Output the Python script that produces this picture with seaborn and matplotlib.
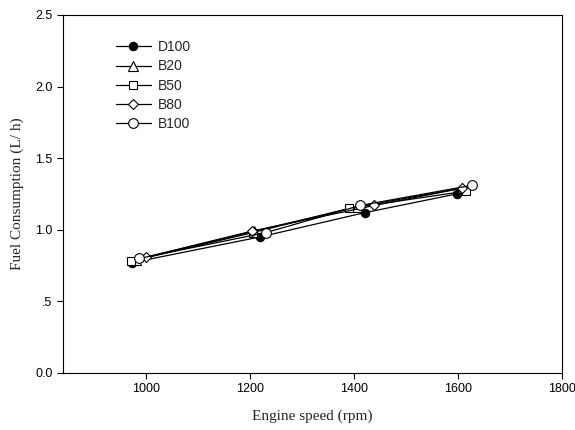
import matplotlib
matplotlib.use('Agg')
import matplotlib.pyplot as plt
import pandas as pd
import seaborn as sns
from matplotlib.ticker import FuncFormatter

# datos
fuels = ['D100', 'B20', 'B50', 'B80', 'B100']
speed = {
    'D100': [972, 1219, 1421, 1597],
    'B20': [981, 1207, 1406, 1607],
    'B50': [971, 1205, 1391, 1615],
    'B80': [1000, 1203, 1439, 1607],
    'B100': [987, 1230, 1412, 1626],
}
consumption = {
    'D100': [0.77, 0.95, 1.12, 1.25],
    'B20': [0.79, 0.99, 1.16, 1.29],
    'B50': [0.78, 0.98, 1.15, 1.27],
    'B80': [0.81, 0.99, 1.17, 1.29],
    'B100': [0.80, 0.98, 1.17, 1.31],
}
x_ticks = [1000, 1200, 1400, 1600, 1800]
y_ticks = [0.0, 0.5, 1.0, 1.5, 2.0, 2.5]

rows = []
for f in fuels:
    for s, c in zip(speed[f], consumption[f]):
        rows.append({'fuel': f, 'speed': s, 'fc': c})
df = pd.DataFrame(rows)

sns.set_style('ticks')
plt.rcParams['font.family'] = ['Liberation Sans', 'DejaVu Sans']

fig = plt.figure(figsize=(5.75, 4.3), dpi=100)
ax = fig.add_axes([0.1096, 0.1326, 0.868, 0.8326])

markers = {'D100': 'o', 'B20': '^', 'B50': 's', 'B80': 'D', 'B100': 'o'}
faces = {'D100': 'black', 'B20': 'white', 'B50': 'white', 'B80': 'white', 'B100': 'white'}
sizes = {'D100': 6, 'B20': 6.5, 'B50': 6, 'B80': 5.5, 'B100': 7}

for f in fuels:
    sub = df[df['fuel'] == f]
    sns.lineplot(data=sub, x='speed', y='fc', ax=ax, color='black', lw=0.9,
                 marker=markers[f], markersize=sizes[f],
                 markerfacecolor=faces[f], markeredgecolor='black',
                 markeredgewidth=0.8, label=f, estimator=None, sort=True)

ax.set_xlim(840, 1800)
ax.set_ylim(0, 2.5)
ax.set_xticks(x_ticks)
ax.set_yticks(y_ticks)

def yfmt(v, pos):
    s = '%.1f' % v
    return s[1:] if s.startswith('0.') and v != 0 else s

ax.yaxis.set_major_formatter(FuncFormatter(yfmt))
ax.tick_params(labelsize=9, direction='out', length=4, width=0.8, colors='black')
for sp in ax.spines.values():
    sp.set_visible(True)
    sp.set_color('black')
    sp.set_linewidth(0.8)

ax.set_xlabel('Engine speed (rpm)', family='Liberation Serif', fontsize=11, labelpad=10)
ax.set_ylabel('Fuel Consumption (L/ h)', family='Liberation Serif', fontsize=11, labelpad=8)

leg = ax.legend(loc='upper left', bbox_to_anchor=(0.095, 0.945), frameon=False,
                fontsize=10, handlelength=2.5, handletextpad=0.5,
                labelspacing=0.38, borderaxespad=0)

fig.savefig('out.png', dpi=100)
plt.close(fig)
